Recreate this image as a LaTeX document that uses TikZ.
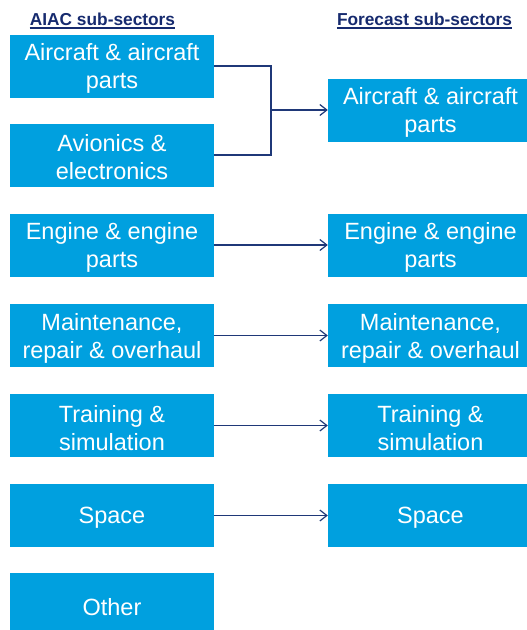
\documentclass[tikz,border=0pt]{standalone}
\usepackage{fontspec}
\setmainfont{Liberation Sans}
\usetikzlibrary{arrows.meta}
\definecolor{boxblue}{RGB}{0,160,223}
\definecolor{navy}{RGB}{31,56,120}
\definecolor{hdrnavy}{RGB}{22,42,110}
\begin{document}
\begin{tikzpicture}[x=1pt,y=-1pt,
  boxtext/.style={text=white, align=center, inner sep=0pt, yshift=-2.5pt,
    font=\fontsize{23.5}{28}\selectfont},
  lbox/.style={fill=boxblue, draw=none, inner sep=0pt,
    minimum width=204pt, minimum height=63pt,
    label={[boxtext]center:{#1}}},
  rbox/.style={fill=boxblue, draw=none, inner sep=0pt,
    minimum width=199pt, minimum height=63pt,
    label={[boxtext, xshift=3pt]center:{#1}}},
  hdr/.style={text=hdrnavy, inner sep=0pt, anchor=base, font=\fontsize{17.3}{20}\selectfont\bfseries},
  hline/.style={draw=hdrnavy, line width=1.6pt},
  conn/.style={draw=navy, line width=1.2pt},
  arr/.style={conn, -{Straight Barb[length=7pt,width=11pt,line width=1.2pt]}}
]
\useasboundingbox (0,0) rectangle (527,630);
% headers
\node[hdr] (h1) at (102.5,25) {AIAC sub-sectors};
\node[hdr] (h2) at (424.5,25) {Forecast sub-sectors};
\draw[hline] ([yshift=-3pt]h1.base west) -- ([yshift=-3pt]h1.base east);
\draw[hline] ([yshift=-3pt]h2.base west) -- ([yshift=-3pt]h2.base east);
% left column
\node[lbox={Aircraft \& aircraft\\parts}] (l1) at (112,66) {};
\node[lbox={Avionics \&\\electronics}] (l2) at (112,155) {};
\node[lbox={Engine \& engine\\parts}] (l3) at (112,245) {};
\node[lbox={{Maintenance,\\repair \& overhaul}}] (l4) at (112,335.5) {};
\node[lbox={Training \&\\simulation}] (l5) at (112,425.5) {};
\node[lbox={Space}] (l6) at (112,515.5) {};
\node[lbox={Other}] (l7) at (112,604.5) {};
% right column
\node[rbox={Aircraft \& aircraft\\parts}] (r1) at (427.5,110) {};
\node[rbox={Engine \& engine\\parts}] (r2) at (427.5,245) {};
\node[rbox={{Maintenance,\\repair \& overhaul}}] (r3) at (427.5,335.5) {};
\node[rbox={Training \&\\simulation}] (r4) at (427.5,425.5) {};
\node[rbox={Space}] (r5) at (427.5,515.5) {};
% connectors
\coordinate (j) at (271,110);
\draw[conn] (l1.east) -| (j);
\draw[conn] (l2.east) -| (j);
\draw[arr] (j) -- (r1.west);
\draw[arr] (l3.east) -- (r2.west);
\draw[arr] (l4.east) -- (r3.west);
\draw[arr] (l5.east) -- (r4.west);
\draw[arr] (l6.east) -- (r5.west);
\end{tikzpicture}
\end{document}
